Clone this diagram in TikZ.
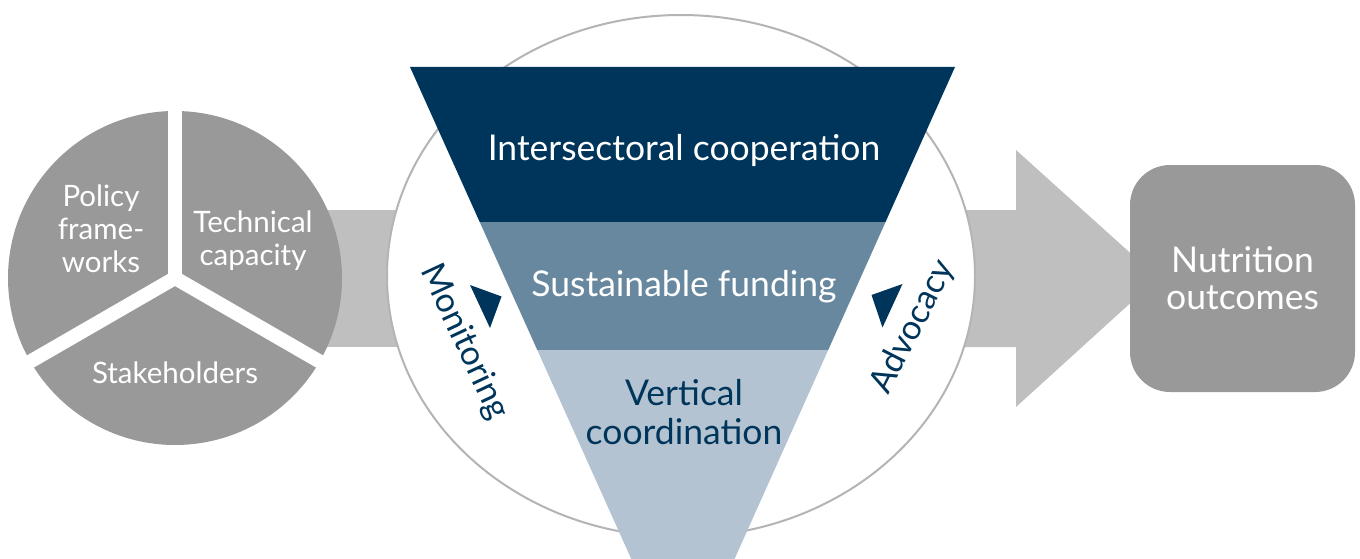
\documentclass[tikz,border=0pt]{standalone}
\usepackage{fontspec}
\setmainfont{Lato}
\definecolor{navy}{HTML}{00355B}
\definecolor{midblue}{HTML}{67889E}
\definecolor{lightblue}{HTML}{B3C3D1}
\definecolor{piegray}{HTML}{999999}
\definecolor{arrowgray}{HTML}{BFBFBF}
\definecolor{ringgray}{HTML}{B4B4B4}
\begin{document}
\begin{tikzpicture}[x=1pt,y=-1pt,
  pietext/.style={text=white,font=\fontsize{29.5}{33}\selectfont,align=center,inner sep=0pt},
  funneltext/.style={font=\fontsize{35.5}{39}\selectfont,align=center,inner sep=0pt},
  sidetext/.style={text=navy,font=\fontsize{34}{38}\selectfont,inner sep=0pt},
  gap/.style={white,line width=14pt},
  marker/.style={fill=navy}]
\useasboundingbox (0,0) rectangle (1360,559);
\begin{scope}
\clip (0,0) rectangle (1360,559);
% left band
\fill[arrowgray] (300,210) rectangle (420,347);
% right arrow
\fill[arrowgray] (940,210) -- (1016,210) -- (1016,150) -- (1158,278) -- (1016,407) -- (1016,347) -- (940,347) -- cycle;
% central ring
\filldraw[fill=white,draw=ringgray,line width=2pt] (681,276) ellipse [x radius=294,y radius=261];
% pie
\fill[piegray] (175,278) circle [radius=167];
\draw[gap] (175,278) -- (175,90);
\draw[gap] (175,278) -- ++(150:200);
\draw[gap] (175,278) -- ++(30:200);
\fill[white] (175,278) circle [radius=7];
% funnel
\begin{scope}
\clip (410,67) -- (955,67) -- (683,674) -- cycle;
\fill[navy] (0,60) rectangle (1360,222);
\fill[midblue] (0,222) rectangle (1360,350);
\fill[lightblue] (0,350) rectangle (1360,700);
\end{scope}
% markers
\fill[marker] (470,285) -- (501.5,296.5) -- (490,328) -- cycle;
\fill[marker] (902.5,284) -- (871.5,295) -- (882.5,327.5) -- cycle;
\end{scope}
% nutrition box
\node[fill=piegray,rounded corners=40pt,minimum width=225pt,minimum height=227pt,inner sep=0pt,
  text=white,font=\fontsize{35.5}{37}\selectfont,align=center] (out) at (1242.5,278.5) {Nutrition\\outcomes};
% pie texts
\node[pietext] (policy) at (101,229) {Policy\\frame-\\works};
\node[pietext] (tech) at (253,241) {Technical\\capacity};
\node[pietext] (stake) at (175,373) {Stakeholders};
% funnel texts
\node[funneltext,text=white] (inter) at (684,150) {Intersectoral cooperation};
\node[funneltext,text=white] (fund) at (684,287) {Sustainable funding};
\node[funneltext,text=navy] (vert) at (684,412) {Vertical\\coordination};
% side texts
\node[sidetext,rotate=-65] (mon) at (464,342) {Monitoring};
\node[sidetext,rotate=63] (adv) at (913,327) {Advocacy};
\end{tikzpicture}
\end{document}
